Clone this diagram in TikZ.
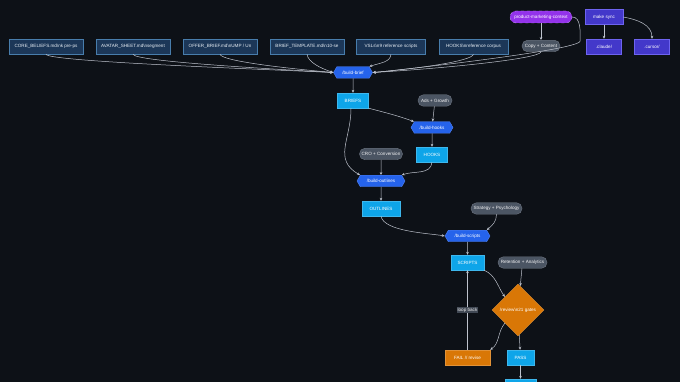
\documentclass[tikz,border=0pt]{standalone}
\usepackage{fontspec}
\setsansfont{Liberation Sans}
\usetikzlibrary{arrows.meta,positioning,shapes.geometric,shapes.symbols,calc}
\definecolor{bgdark}{RGB}{13,17,23}
\definecolor{navyfill}{RGB}{28,55,88}
\definecolor{navyline}{RGB}{72,125,172}
\definecolor{pillgray}{RGB}{75,85,99}
\definecolor{pillline}{RGB}{110,118,130}
\definecolor{ctxpurple}{RGB}{147,51,234}
\definecolor{ctxline}{RGB}{200,150,252}
\definecolor{syncindigo}{RGB}{67,56,202}
\definecolor{syncline}{RGB}{110,100,240}
\definecolor{cmdblue}{RGB}{37,99,235}
\definecolor{skyblue}{RGB}{14,165,233}
\definecolor{gateorange}{RGB}{217,119,6}
\definecolor{edgegray}{RGB}{190,195,205}

\begin{document}
\begin{tikzpicture}[
    x=1pt, y=-1pt,
    font=\sffamily\fontsize{4.6}{5.5}\selectfont,
    >={Stealth[length=3pt,width=2.6pt]},
    filebox/.style={draw=navyline, fill=navyfill, line width=0.6pt, text=white!88!navyline, minimum width=74pt, minimum height=15pt, inner sep=1pt},
    pill/.style={draw=pillline, fill=pillgray, rounded corners=5.5pt, text=white!92!pillgray, minimum height=11.5pt, inner sep=2pt},
    ctxpill/.style={draw=ctxline, dashed, fill=ctxpurple, rounded corners=6pt, text=white, minimum height=12pt, minimum width=62pt, inner sep=1pt},
    syncbox/.style={draw=syncline, fill=syncindigo, text=white, minimum width=35pt, minimum height=15pt, inner sep=1pt},
    cmdhex/.style={signal, signal to=east and west, signal pointer angle=120, draw=cmdblue!80!white, fill=cmdblue, text=white, minimum height=11.5pt, inner sep=1pt},
    stagebox/.style={draw=skyblue!80!white, fill=skyblue, text=white, minimum height=15pt, inner sep=1pt},
    gatebox/.style={draw=gateorange!80!white, fill=gateorange, text=white, inner sep=1pt},
    flow/.style={->, draw=edgegray, line width=0.5pt}
]

% Canvas
\clip (0,0) rectangle (680,382);
\fill[bgdark] (0,0) rectangle (680,382);

% Top row: source files
\node[filebox] (corebeliefs) at (46,46.5) {CORE\_BELIEFS.md\textbackslash nk pre-ps};
\node[filebox] (avatarsheet) at (133,46.5) {AVATAR\_SHEET.md\textbackslash nsegment};
\node[filebox] (offerbrief) at (220,46.5) {OFFER\_BRIEF.md\textbackslash nUMP / Un};
\node[filebox] (brieftemplate) at (307,46.5) {BRIEF\_TEMPLATE.md\textbackslash n10-se};
\node[filebox, minimum width=69pt] (vslrefs) at (391,46.5) {VSLs\textbackslash n9 reference scripts};
\node[filebox, minimum width=69pt] (hookrefs) at (473.5,46.5) {HOOKS\textbackslash nreference corpus};

% Context + sync
\node[ctxpill] (pmcontext) at (541,17) {product-marketing-context};
\node[pill, minimum width=38pt] (copycontent) at (541,46) {Copy + Content};
\node[syncbox, minimum width=38pt] (makesync) at (604,17) {make sync};
\node[syncbox] (claudedir) at (604,46.5) {.claude/};
\node[syncbox] (cursordir) at (652,46.5) {.cursor/};

% Pipeline
\node[cmdhex, minimum width=39pt] (buildbrief) at (353,72.5) {/build-brief};
\node[stagebox, minimum width=31pt] (briefs) at (353,100.5) {BRIEFS};
\node[pill, minimum width=34pt] (adsgrowth) at (435,100.5) {Ads + Growth};
\node[cmdhex, minimum width=42pt] (buildhooks) at (432,127.5) {/build-hooks};
\node[stagebox, minimum width=31pt] (hooks) at (432,154.5) {HOOKS};
\node[pill, minimum width=43pt] (croconv) at (381,154) {CRO + Conversion};
\node[cmdhex, minimum width=48pt] (buildoutlines) at (381,181) {/build-outlines};
\node[stagebox, minimum width=38pt] (outlines) at (381,208.5) {OUTLINES};
\node[pill, minimum width=51pt] (stratpsych) at (496.5,208.5) {Strategy + Psychology};
\node[cmdhex, minimum width=45pt] (buildscripts) at (467.5,236) {/build-scripts};
\node[stagebox, minimum width=33pt] (scripts) at (467.5,262.5) {SCRIPTS};
\node[pill, minimum width=49pt] (retention) at (522.5,262.5) {Retention + Analytics};
\node[gatebox, diamond, minimum width=52pt, minimum height=52pt] (review) at (518,310) {/review\textbackslash n21 gates};
\node[gatebox, minimum width=45pt, minimum height=15pt] (failrevise) at (467.5,357.5) {FAIL // revise};
\node[stagebox, minimum width=27pt] (pass) at (520.5,357.5) {PASS};
\node[stagebox, minimum width=31pt] (nextstage) at (520.5,386.5) {};

% Edges into /build-brief
\draw[flow] (corebeliefs.south) .. controls +(2,7) and +(-90,-4) .. (buildbrief.west);
\draw[flow] (avatarsheet.south) .. controls +(2,7) and +(-70,-4) .. (buildbrief.west);
\draw[flow] (offerbrief.south) .. controls +(2,7) and +(-45,-4) .. (buildbrief.west);
\draw[flow] (brieftemplate.south) .. controls +(1,8) and +(-12,-4) .. (buildbrief.west);
\draw[flow] (vslrefs.south) .. controls +(-1,8) and +(12,-4) .. (buildbrief.north east);
\draw[flow] (hookrefs.south) .. controls +(-2,7) and +(45,-4) .. (buildbrief.east);
\draw[flow] (copycontent.south) .. controls +(-2,7) and +(70,-4) .. (buildbrief.east);
\draw[flow] (pmcontext.east) to[out=0, in=90, looseness=0.9] ++(8,24) to[out=-95, in=4, looseness=0.12] (buildbrief.east);
\draw[flow] (pmcontext) -- (copycontent);
\draw[flow] (makesync) -- (claudedir);
\draw[flow] (makesync.east) to[out=-10, in=90] (cursordir.north);

% Stages
\draw[flow] (buildbrief) -- (briefs);
\draw[flow] (briefs.south east) to[out=-15, in=160] (buildhooks.north west);
\draw[flow] (adsgrowth) -- (buildhooks);
\draw[flow] (buildhooks) -- (hooks);
\draw[flow] ($(briefs.south)+(-2,0)$) to[out=-90, in=150, looseness=1.2] (buildoutlines.north west);
\draw[flow] (croconv) -- (buildoutlines);
\draw[flow] (hooks.south) to[out=-95, in=20] (buildoutlines.north east);
\draw[flow] (buildoutlines) -- (outlines);
\draw[flow] (outlines.south) to[out=-80, in=170, looseness=0.6] (buildscripts.west);
\draw[flow] (stratpsych.south) to[out=-90, in=40] (buildscripts.north east);
\draw[flow] (buildscripts) -- (scripts);
\draw[flow] (scripts.south east) to[out=-25, in=125] (review.north west);
\draw[flow] (retention) -- (review);
\draw[flow] (review.south west) to[out=-130, in=35] (failrevise.north east);
\draw[flow] (review) -- (pass);
\draw[flow] (failrevise.north) -- node[midway, fill=pillgray!85!black, text=white!85!gray, inner sep=1pt] {loop back} (scripts.south);
\draw[flow] (pass) -- (nextstage);

\end{tikzpicture}
\end{document}
